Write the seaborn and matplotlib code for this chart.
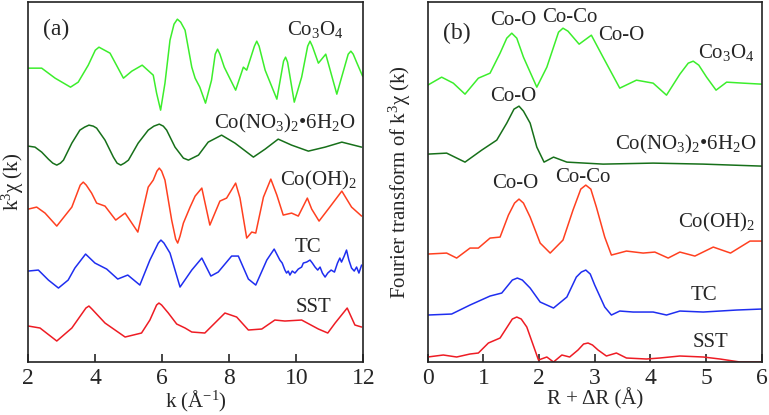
import numpy as np
import pandas as pd
import matplotlib
matplotlib.use('Agg')
import matplotlib.pyplot as plt
import seaborn as sns

# ---- panel (a): k^3 chi(k), signal relative to each curve's own baseline ----
k_co3o4 = [2.00, 2.40, 2.80, 3.26, 3.49, 3.79, 4.00, 4.11, 4.22, 4.44, 4.84, 5.09, 5.40, 5.73, 5.83,
           5.95, 6.08, 6.23, 6.35, 6.45, 6.55, 6.68, 6.88, 6.98, 7.12, 7.29, 7.47, 7.58, 7.65, 7.72,
           7.85, 8.19, 8.42, 8.52, 8.75, 8.82, 8.89, 9.07, 9.42, 9.62, 9.68, 9.74, 9.94, 10.16, 10.34,
           10.41, 10.48, 10.66, 10.88, 11.21, 11.55, 11.63, 11.70, 11.80, 11.98]
chi_co3o4 = [0, 0, -10, -19, -14, 3, 18, 21, 19, 15, -10, -3, 3, -7, -25,
             -42, -15, 28, 44, 49, 46, 38, 1, -10, -19, -35, -12, 14, 19, 14,
             1, -22, 1, -2, 22, 27, 22, -2, -31, 7, 11, 6, -34, -9, 22,
             27, 22, 5, 14, -26, 14, 17, 14, 6, -8]

k_nitrate = [2.00, 2.20, 2.40, 2.60, 2.73, 2.85, 2.96, 3.05, 3.30, 3.54, 3.68, 3.81, 3.94, 4.04, 4.29,
             4.54, 4.65, 4.76, 4.87, 4.99, 5.28, 5.58, 5.75, 5.91, 6.03, 6.13, 6.38, 6.63, 6.78, 7.08,
             7.37, 7.77, 8.17, 8.72, 9.07, 9.46, 9.86, 10.36, 10.86, 11.36, 11.95]
chi_nitrate = [0, -1, -6, -13, -17, -19, -17, -14, 3, 16, 19, 21, 20, 18, 6,
               -11, -17, -19, -17, -14, 3, 16, 20, 22, 20, 16, -1, -12, -14, -9,
               4, 11, 3, -11, -3, 7, 1, -5, -1, 4, -1]

k_oh = [2.00, 2.25, 2.50, 2.85, 3.30, 3.55, 3.64, 3.73, 3.89, 4.04, 4.29, 4.61, 4.89, 5.27, 5.58,
        5.73, 5.84, 5.91, 5.98, 6.08, 6.28, 6.40, 6.46, 6.53, 6.63, 6.83, 6.98, 7.18, 7.42, 7.72,
        7.92, 8.19, 8.32, 8.52, 8.67, 8.79, 9.02, 9.24, 9.42, 9.61, 9.86, 10.06, 10.33, 10.46, 10.68,
        11.00, 11.36, 11.65, 11.95]
chi_oh = [0, 2, -4, -17, 2, 24, 27, 24, 16, 6, 3, -11, -4, -23, 22,
          29, 38, 41, 38, 29, -11, -30, -34, -27, -14, 2, 13, 21, -16, 8,
          11, 26, 11, -29, -23, -24, 12, 30, 14, -6, -4, -7, 11, 0, -12,
          2, 18, 2, -7]

k_tc = [2.00, 2.30, 2.60, 2.90, 3.19, 3.39, 3.71, 3.99, 4.34, 4.67, 4.97, 5.33, 5.63, 5.88, 5.96,
        6.05, 6.23, 6.53, 6.88, 7.18, 7.45, 7.67, 8.07, 8.27, 8.57, 8.79, 9.12, 9.34, 9.51, 9.58,
        9.66, 9.71, 9.76, 9.81, 9.88, 9.96, 10.06, 10.16, 10.21, 10.31, 10.41, 10.48, 10.56, 10.64, 10.71,
        10.78, 10.86, 10.94, 11.04, 11.14, 11.23, 11.30, 11.35, 11.43, 11.50, 11.57, 11.65, 11.73, 11.80,
        11.87, 11.95]
chi_tc = [0, 1, -9, -17, -9, 3, 17, 8, 2, -8, -4, -14, 11, 28, 31,
          28, 18, -16, 1, 13, -5, -1, 15, 15, -8, -14, 11, 22, 11, 8,
          1, -2, 0, -4, 0, -2, 2, 4, 8, 9, 11, 8, 4, 1, 4,
          -2, -6, -2, 1, -1, 8, 13, 9, 15, 21, 11, 3, 0, 4,
          -2, 6]

k_sst = [2.00, 2.35, 2.85, 3.30, 3.72, 3.81, 3.90, 4.29, 4.89, 5.38, 5.63, 5.83, 5.90, 5.98, 6.18,
         6.43, 6.68, 6.88, 7.27, 7.57, 7.87, 8.22, 8.57, 8.97, 9.36, 9.66, 10.16, 10.66, 10.94, 11.16,
         11.52, 11.75, 11.95]
chi_sst = [0, -2, -15, -2, 18, 20, 17, 3, -11, -7, 6, 21, 23, 21, 13,
           2, -2, -6, -7, 3, 13, 9, -4, -3, 6, 5, 6, -3, -7, 3,
           18, 1, -1]

# ---- panel (b): Fourier transform magnitude ----
r_co3o4 = [0.00, 0.25, 0.46, 0.67, 0.91, 1.12, 1.30, 1.42, 1.51, 1.60, 1.72, 1.96, 2.14, 2.35, 2.43,
           2.52, 2.72, 2.94, 3.15, 3.45, 3.75, 4.05, 4.29, 4.53, 4.68, 4.77, 4.87, 5.01, 5.18, 5.37,
           5.67, 6.00]
ft_co3o4 = [0, 8, 2, -9, 7, 12, 32, 47, 52, 47, 28, -2, 18, 53, 57,
            54, 41, 50, 28, -3, 5, 2, -10, 11, 22, 24, 20, 8, -5, 3,
            2, 1]

r_nitrate = [0.00, 0.34, 0.67, 0.97, 1.24, 1.42, 1.55, 1.64, 1.72, 1.84, 1.96, 2.09, 2.26, 2.50, 3.15,
             4.05, 4.95, 6.00]
ft_nitrate = [0, 1, -8, 4, 14, 31, 45, 48, 43, 31, 7, -8, -3, -8, -10,
              -9, -10, -12]

r_oh = [0.00, 0.34, 0.52, 0.76, 0.91, 1.12, 1.30, 1.45, 1.56, 1.64, 1.72, 1.84, 2.02, 2.20, 2.43,
        2.61, 2.75, 2.84, 2.93, 3.03, 3.18, 3.30, 3.57, 3.87, 4.08, 4.32, 4.53, 4.80, 5.13, 5.44,
        5.79, 6.00]
ft_oh = [0, 1, -4, 6, 6, 16, 17, 39, 51, 55, 51, 37, 11, 1, 14,
         44, 65, 69, 65, 47, 17, -1, 3, 1, 2, -4, 2, -2, 7, 1,
         13, 13]

r_tc = [0.00, 0.43, 0.76, 1.12, 1.33, 1.52, 1.61, 1.70, 1.84, 2.02, 2.26, 2.50, 2.67, 2.76, 2.84,
        2.92, 3.00, 3.18, 3.30, 3.45, 3.69, 4.05, 4.29, 4.53, 4.95, 5.55, 6.00]
ft_tc = [0, 1, 10, 19, 22, 35, 37, 35, 27, 13, 7, 18, 38, 43, 45,
         41, 30, 8, 0, 4, 3, 3, 0, 4, 3, 5, 6]

r_sst = [0.00, 0.28, 0.52, 0.76, 0.91, 1.09, 1.30, 1.52, 1.60, 1.68, 1.78, 1.99, 2.14, 2.26, 2.41,
         2.55, 2.70, 2.80, 2.88, 2.96, 3.06, 3.21, 3.39, 3.57, 3.93, 4.17, 4.53, 4.95, 5.25, 5.61,
         6.00]
ft_sst = [0, 2, 0, 3, 4, 14, 19, 38, 40, 38, 30, -3, 0, -5, 2,
          0, 7, 13, 14, 12, 7, 1, 4, -1, -2, -1, 1, 0, -2, -5,
          -5]

names = ['Co$_3$O$_4$', 'Co(NO$_3$)$_2$•6H$_2$O', 'Co(OH)$_2$', 'TC', 'SST']
colors = ['#3cee2c', '#17701a', '#ff4020', '#1f2ef0', '#ee1c24']
offsets_a = [294, 216, 153, 91, 36]
offsets_b = [277, 208, 108, 47, 5]

sns.set_style('ticks')
plt.rcParams['font.family'] = ['Liberation Serif', 'DejaVu Serif']
plt.rcParams['mathtext.fontset'] = 'custom'
plt.rcParams['mathtext.rm'] = 'Liberation Serif'
plt.rcParams['mathtext.it'] = 'Liberation Serif:italic'
plt.rcParams['mathtext.default'] = 'regular'

fig = plt.figure(figsize=(7.69, 4.15), dpi=100)
ax1 = fig.add_axes([0.0368, 0.1277, 0.4356, 0.867])
ax2 = fig.add_axes([0.5562, 0.1277, 0.4343, 0.867])

curves_a = [(k_co3o4, chi_co3o4), (k_nitrate, chi_nitrate), (k_oh, chi_oh), (k_tc, chi_tc), (k_sst, chi_sst)]
curves_b = [(r_co3o4, ft_co3o4), (r_nitrate, ft_nitrate), (r_oh, ft_oh), (r_tc, ft_tc), (r_sst, ft_sst)]

for (x, y), off, c in zip(curves_a, offsets_a, colors):
    df = pd.DataFrame({'k': x, 'chi': np.array(y) + off})
    sns.lineplot(data=df, x='k', y='chi', ax=ax1, color=c, lw=1.1, sort=False, estimator=None)
for (x, y), off, c in zip(curves_b, offsets_b, colors):
    df = pd.DataFrame({'R': x, 'ft': np.array(y) + off})
    sns.lineplot(data=df, x='R', y='ft', ax=ax2, color=c, lw=1.1, sort=False, estimator=None)

fs = 15
# curve labels
lab_a = [(10.56, 333), (9.66, 239), (10.65, 182), (10.35, 115), (10.50, 55)]
for (x, y), n in zip(lab_a, names):
    ax1.text(x, y, n, ha='center', va='center', fontsize=fs)
ax1.text(2.83, 333, '(a)', ha='center', va='center', fontsize=17)

lab_b = [(5.36, 310), (4.63, 218), (5.19, 140), (4.96, 67), (5.08, 20)]
for (x, y), n in zip(lab_b, names):
    ax2.text(x, y, n, ha='center', va='center', fontsize=fs)
ax2.text(0.52, 329, '(b)', ha='center', va='center', fontsize=17)
peaks = [(1.54, 342, 'Co-O'), (2.56, 345, 'Co-Co'), (3.47, 327, 'Co-O'),
         (1.54, 266, 'Co-O'), (1.57, 179, 'Co-O'), (2.79, 185, 'Co-Co')]
for x, y, t in peaks:
    ax2.text(x, y, t, ha='center', va='center', fontsize=fs)

ax1.set_xlim(2, 12)
ax2.set_xlim(0, 6)
for ax in (ax1, ax2):
    ax.set_ylim(0, 360)
    ax.set_yticks([])
    ax.tick_params(axis='x', direction='in', length=6, width=1.2, labelsize=17, pad=4)
    for s in ax.spines.values():
        s.set_visible(True)
        s.set_linewidth(1.2)
        s.set_color('#222222')

ax1.set_xticks([2, 4, 6, 8, 10, 12])
ax2.set_xticks([0, 1, 2, 3, 4, 5, 6])
ax1.set_xlabel('k (Å$^{-1}$)', fontsize=15, labelpad=0)
ax1.set_ylabel('k$^3$χ (k)', fontsize=15)
ax1.yaxis.set_label_coords(-0.006, 0.5)
ax2.set_xlabel('R + ΔR (Å)', fontsize=15, labelpad=0)
ax2.set_ylabel('Fourier transform of k$^3$χ (k)', fontsize=15)
ax2.yaxis.set_label_coords(-0.045, 0.5)

fig.savefig('out.png', dpi=100)
